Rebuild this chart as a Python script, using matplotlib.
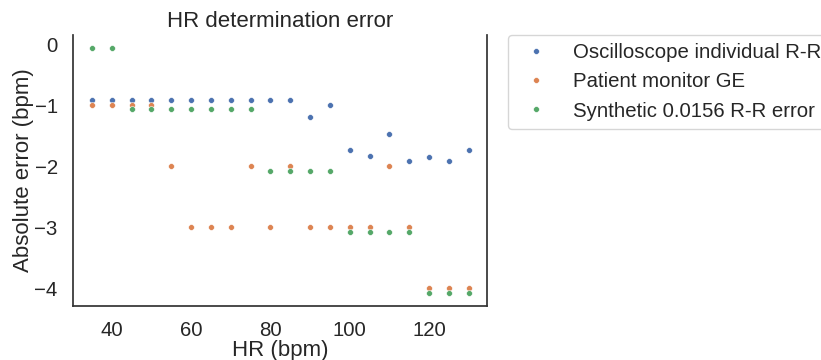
import matplotlib
matplotlib.use("Agg")
import matplotlib.pyplot as plt
import seaborn as sns

# heart-rate settings of the simulator (bpm)
hr = [35, 40, 45, 50, 55, 60, 65, 70, 75, 80,
      85, 90, 95, 100, 105, 110, 115, 120, 125, 130]

# measured minus set heart rate (bpm)
err_scope = [-0.91, -0.91, -0.91, -0.91, -0.91, -0.91, -0.91, -0.91, -0.91, -0.91,
             -0.91, -1.19, -1.00, -1.74, -1.84, -1.48, -1.91, -1.85, -1.91, -1.74]
err_monitor = [-1, -1, -1, -1, -2, -3, -3, -3, -2, -3,
               -2, -3, -3, -3, -3, -2, -3, -4, -4, -4]
err_synth = [-0.07, -0.07, -1.07, -1.07, -1.07, -1.07, -1.07, -1.07, -1.07, -2.08,
             -2.08, -2.08, -2.08, -3.08, -3.08, -3.08, -3.08, -4.08, -4.08, -4.08]

labels = ["Oscilloscope individual R-R", "Patient monitor GE", "Synthetic 0.0156 R-R error"]

sns.set_theme(style="white")
plt.rcParams["font.family"] = ["Liberation Sans", "DejaVu Sans"]
colors = sns.color_palette("deep")

fig = plt.figure(figsize=(8.21, 3.6), dpi=100)
ax = fig.add_axes([0.0889, 0.15, 0.5043, 0.7528])

for ys, label, color in zip([err_scope, err_monitor, err_synth], labels, colors):
    ax.plot(hr, ys, "o", ms=4.2, mec="white", mew=0.4, color=color, label=label)

ax.set_xlim(30.25, 134.6)
ax.set_ylim(-4.29, 0.15)
ax.set_xticks([40, 60, 80, 100, 120])
ax.set_yticks([0, -1, -2, -3, -4])
ax.tick_params(labelsize=14.7, pad=5)
ax.spines["top"].set_visible(False)
for side in ("left", "right", "bottom"):
    ax.spines[side].set_color("#333333")
    ax.spines[side].set_linewidth(1.25)

ax.set_title("HR determination error", fontsize=16, pad=6)
ax.set_xlabel("HR (bpm)", fontsize=16, labelpad=0)
ax.set_ylabel("Absolute error (bpm)", fontsize=16, labelpad=0)
ax.legend(loc="upper left", bbox_to_anchor=(1.05, 1), borderaxespad=0,
          fontsize=14.7, numpoints=1)

fig.savefig("out.png", dpi=100)
